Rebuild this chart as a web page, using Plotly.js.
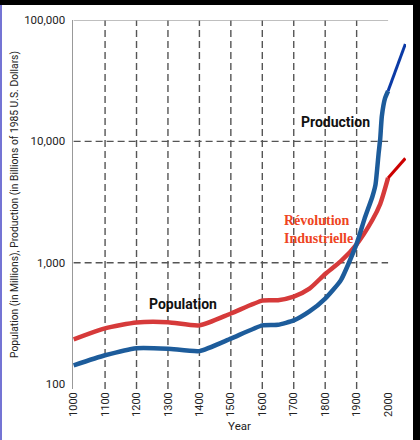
<!DOCTYPE html>
<html><head><meta charset="utf-8">
<script src="https://cdn.plot.ly/plotly-3.0.1.min.js"></script>
<style>
html,body{margin:0;padding:0;background:#fff;}
#wrap{position:relative;width:420px;height:440px;overflow:hidden;}
#chart{position:absolute;left:0;top:0;width:420px;height:440px;}
.b{position:absolute;pointer-events:none;}
</style></head>
<body>
<div id="wrap">
<div id="chart"></div>
<div class="b" style="left:0;top:0;width:2px;height:440px;background:#7474d4;"></div>
<div class="b" style="left:0;top:0;width:420px;height:5px;background:#000;"></div>
<div class="b" style="left:413px;top:0;width:7px;height:440px;background:#000;"></div>
</div>
<script>
// Data
var popYears = [1000,1100,1200,1300,1400,1500,1600,1650,1700,1750,1800,1850,1900,1950,1975,2000];
var popValues = [234,288,322,324,305,382,488,492,526,612,808,1030,1420,2250,3050,5000];
var popProjYears = [2000,2055];
var popProjValues = [5000,7250];

var prodYears = [1000,1100,1200,1300,1400,1500,1600,1650,1700,1750,1800,1850,1900,1925,1950,1960,1970,1975,1980,1990,2000];
var prodValues = [143,173,198,196,187,237,305,308,335,397,507,720,1430,2300,3500,4400,8000,10500,16000,22500,26000];
var prodProjYears = [2000,2055];
var prodProjValues = [26000,63500];

var tickYears = [1000,1100,1200,1300,1400,1500,1600,1700,1800,1900,2000];
var gridYears = [1100,1200,1300,1400,1500,1600,1700,1800,1900];
var gridValues = [1000,10000];
var yTickVals = [100,1000,10000,100000];
var yTickText = ['100','1,000','10,000','100,000'];

var FONT = 'Roboto, "Liberation Sans", sans-serif';
var yLow = Math.pow(10,1.96), yTop = 100000;

// grid traces
var vx=[], vy=[];
gridYears.forEach(function(y){ vx.push(y,y,null); vy.push(yLow,yTop,null); });
var hx=[], hy=[];
gridValues.forEach(function(v){ hx.push(tickYears[0],tickYears[tickYears.length-1],null); hy.push(v,v,null); });

var traces = [
  {x:vx,y:vy,mode:'lines',line:{color:'#555',width:1.4,dash:'7px,4px'},hoverinfo:'skip',showlegend:false},
  {x:hx,y:hy,mode:'lines',line:{color:'#555',width:1.4,dash:'7px,4px'},hoverinfo:'skip',showlegend:false},
  {x:[tickYears[0],tickYears[tickYears.length-1]],y:[yTop,yTop],mode:'lines',line:{color:'#aaa',width:1.5},hoverinfo:'skip',showlegend:false},
  {x:popYears,y:popValues,mode:'lines',line:{color:'#d63a3a',width:4.5,shape:'spline',smoothing:0.6},name:'Population',showlegend:false},
  {x:prodYears,y:prodValues,mode:'lines',line:{color:'#1d5c9b',width:4.5,shape:'spline',smoothing:0.5},name:'Production',showlegend:false},
  {x:popProjYears,y:popProjValues,mode:'lines',line:{color:'#cc0000',width:3},showlegend:false},
  {x:prodProjYears,y:prodProjValues,mode:'lines',line:{color:'#0b3aa6',width:3},showlegend:false}
];

var layout = {
  width:420,height:440,
  margin:{l:73,r:14,t:20,b:51},
  paper_bgcolor:'#fff',plot_bgcolor:'#fff',
  showlegend:false,
  font:{family:FONT,color:'#222',size:11},
  xaxis:{
    range:[998,2057],
    tickmode:'array',tickvals:tickYears,ticktext:tickYears.map(String),
    tickangle:-90,ticks:'',showgrid:false,zeroline:false,showline:false,
    tickfont:{family:FONT,size:11,color:'#222'},
    title:{text:'Year',font:{family:FONT,size:11.5,color:'#222'},standoff:6}
  },
  yaxis:{
    type:'log',range:[1.96,5],
    tickmode:'array',tickvals:yTickVals,ticktext:yTickText,
    ticks:'',showgrid:false,zeroline:false,
    showline:true,linecolor:'#999',linewidth:1.5,
    ticklabelstandoff:4,
    tickfont:{family:FONT,size:11.5,color:'#222'},
    title:{text:'Population (in Millions), Production (in Billions of 1985 U.S. Dollars)',font:{family:FONT,size:10.3,color:'#222'},standoff:3}
  },
  annotations:[
    {x:1834,y:4.16,xref:'x',yref:'y',text:'<b>Production</b>',showarrow:false,font:{family:FONT,size:14,color:'#111'}},
    {x:1348,y:2.66,xref:'x',yref:'y',text:'<b>Population</b>',showarrow:false,font:{family:FONT,size:14,color:'#111'}},
    {x:1663,y:3.27,xref:'x',yref:'y',xanchor:'left',align:'left',text:'<b>Révolution<br>Industrielle</b>',showarrow:false,font:{family:'"Liberation Serif","DejaVu Serif",serif',size:14,color:'#ee4422'}}
  ]
};
Plotly.newPlot('chart',traces,layout,{displayModeBar:false,staticPlot:true});
</script>
</body></html>
